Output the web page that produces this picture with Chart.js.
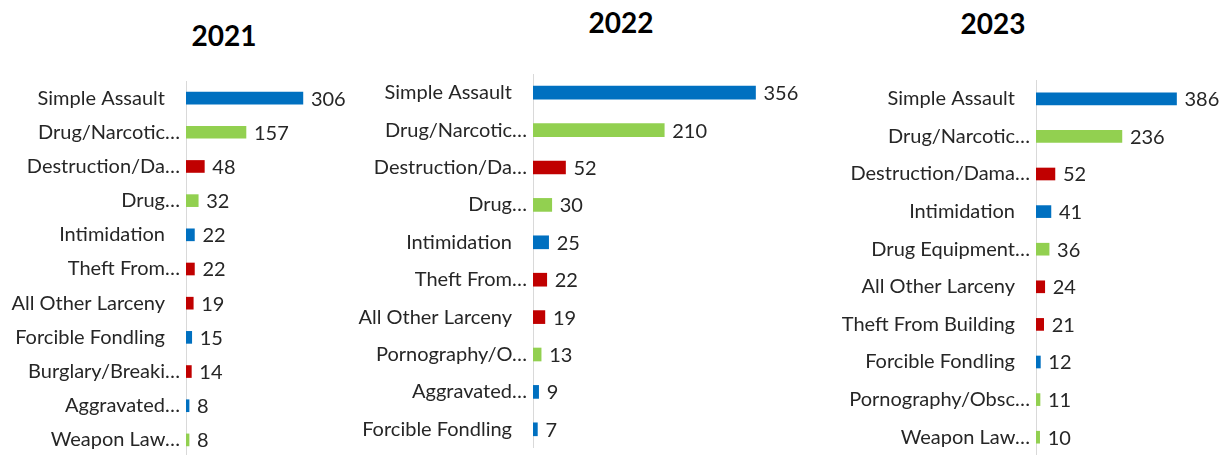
<!DOCTYPE html>
<html>
<head>
    <title>Top Offenses by Year</title>
    <script src="https://cdn.jsdelivr.net/npm/chart.js"></script>
    <style>
        body { margin: 0; background: white; width: 1231px; height: 455px; overflow: hidden; position: relative; font-family: Lato, Arial; }
        .year-title { position: absolute; margin: 0; font-size: 28px; font-weight: bold; color: #000; transform: translate(-50%, -50%); white-space: nowrap; }
        .chart-box { position: absolute; }
    </style>
</head>
<body>
    <h2 class="year-title" style="left: 224px; top: 35px;">2021</h2>
    <h2 class="year-title" style="left: 621px; top: 22px;">2022</h2>
    <h2 class="year-title" style="left: 993px; top: 23px;">2023</h2>

    <div class="chart-box" style="left: 0px; top: 81px; width: 440px; height: 376px;"><canvas id="chart2021"></canvas></div>
    <div class="chart-box" style="left: 340px; top: 74px; width: 500px; height: 374px;"><canvas id="chart2022"></canvas></div>
    <div class="chart-box" style="left: 830px; top: 80px; width: 440px; height: 376px;"><canvas id="chart2023"></canvas></div>

    <script>
        // offense counts per year (labels as shown, already shortened)
        const labels2021 = ['Simple Assault', 'Drug/Narcotic…', 'Destruction/Da…', 'Drug…', 'Intimidation', 'Theft From…',
                            'All Other Larceny', 'Forcible Fondling', 'Burglary/Breaki…', 'Aggravated…', 'Weapon Law…'];
        const counts2021 = [306, 157, 48, 32, 22, 22, 19, 15, 14, 8, 8];
        const against2021 = ['person', 'society', 'property', 'society', 'person', 'property', 'property', 'person', 'property', 'person', 'society'];

        const labels2022 = ['Simple Assault', 'Drug/Narcotic…', 'Destruction/Da…', 'Drug…', 'Intimidation', 'Theft From…',
                            'All Other Larceny', 'Pornography/O…', 'Aggravated…', 'Forcible Fondling'];
        const counts2022 = [356, 210, 52, 30, 25, 22, 19, 13, 9, 7];
        const against2022 = ['person', 'society', 'property', 'society', 'person', 'property', 'property', 'society', 'person', 'person'];

        const labels2023 = ['Simple Assault', 'Drug/Narcotic…', 'Destruction/Dama…', 'Intimidation', 'Drug Equipment…',
                            'All Other Larceny', 'Theft From Building', 'Forcible Fondling', 'Pornography/Obsc…', 'Weapon Law…'];
        const counts2023 = [386, 236, 52, 41, 36, 24, 21, 12, 11, 10];
        const against2023 = ['person', 'society', 'property', 'person', 'society', 'property', 'property', 'person', 'society', 'society'];

        const groupColors = { person: '#0070C0', society: '#92D050', property: '#C00000' };

        Chart.defaults.font.family = 'Lato, Arial';
        Chart.defaults.color = '#262626';

        // writes the count just past the end of each bar
        const valueLabels = {
            id: 'valueLabels',
            afterDatasetsDraw(chart) {
                const ctx = chart.ctx;
                const meta = chart.getDatasetMeta(0);
                ctx.save();
                ctx.font = '20px Lato, Arial';
                ctx.fillStyle = '#262626';
                ctx.textAlign = 'left';
                ctx.textBaseline = 'middle';
                meta.data.forEach((bar, i) => {
                    ctx.fillText(chart.data.datasets[0].data[i], bar.x + 8, bar.y + 1);
                });
                ctx.restore();
            }
        };

        function drawYear(id, labels, counts, against, axisWidth, plotWidth, xMax, thickness) {
            new Chart(document.getElementById(id), {
                type: 'bar',
                data: {
                    labels: labels,
                    datasets: [{
                        data: counts,
                        backgroundColor: against.map(g => groupColors[g]),
                        barThickness: thickness
                    }]
                },
                options: {
                    indexAxis: 'y',
                    responsive: true,
                    maintainAspectRatio: false,
                    animation: false,
                    layout: { padding: { left: 0, top: 0, bottom: 0, right: 0 } },
                    plugins: { legend: { display: false }, tooltip: { enabled: false } },
                    scales: {
                        x: { display: false, min: 0, max: xMax },
                        y: {
                            grid: { display: false, drawTicks: false },
                            border: { display: true, color: '#d9d9d9', width: 1 },
                            ticks: {
                                padding: 6,
                                font: { size: 20 },
                                color: '#262626',
                                // full names sit a little further from the axis than the cut ones
                                callback(v, i) {
                                    const t = labels[i];
                                    return t.endsWith('…') ? t : t + '\u2002\u2005';
                                }
                            },
                            afterFit(scale) {
                                scale.width = axisWidth;
                                scale.paddingTop = 0;
                                scale.paddingBottom = 0;
                            }
                        }
                    }
                },
                plugins: [valueLabels, {
                    id: 'plotWidth',
                    beforeLayout(chart) {
                        chart.options.layout.padding.right = chart.width - axisWidth - plotWidth;
                    }
                }]
            });
        }

        drawYear('chart2021', labels2021, counts2021, against2021, 186, 191, 500, 12);
        drawYear('chart2022', labels2022, counts2022, against2022, 193, 250, 400, 13);
        drawYear('chart2023', labels2023, counts2023, against2023, 206, 182, 500, 12);
    </script>
</body>
</html>
